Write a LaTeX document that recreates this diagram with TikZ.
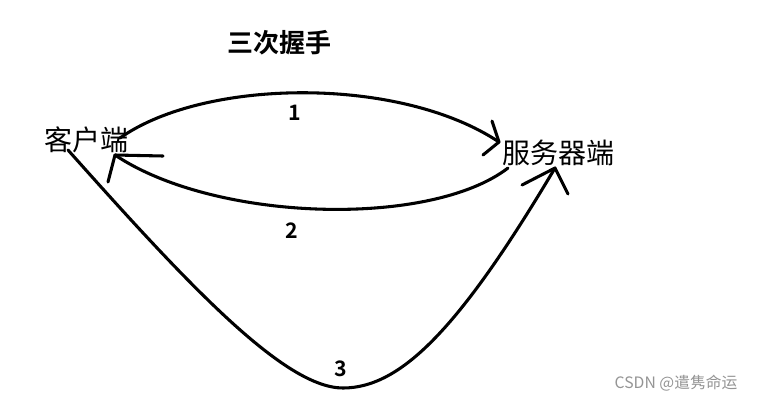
\documentclass[tikz,border=0pt]{standalone}
\usepackage{fontspec}
\setmainfont{Noto Sans CJK SC}
\newfontfamily\cjkbold{Noto Sans CJK SC Bold}
\begin{document}
\begin{tikzpicture}[x=0.75pt,y=-0.75pt,
  stroke/.style={line width=2.3pt,line cap=round,line join=round},
  lbl/.style={inner sep=0pt,font=\fontsize{21pt}{22pt}\selectfont},
  num/.style={inner sep=0pt,font=\fontsize{16pt}{17pt}\selectfont\cjkbold},
  ttl/.style={inner sep=0pt,font=\fontsize{19.5pt}{20pt}\selectfont\cjkbold},
  wm/.style={inner sep=0pt,text=black!42,font=\fontsize{11.8pt}{12pt}\selectfont}]
\useasboundingbox (0,0) rectangle (758,401);
\node[ttl] (title) at (279,43) {三次握手};
\node[lbl] (client) at (87,140) {客户端};
\node[lbl] (server) at (558,153) {服务器端};
\node[num] (n1) at (295,113) {1};
\node[num] (n2) at (292,231) {2};
\node[num] (n3) at (341,369) {3};
\node[wm] (mark) at (676,383) {CSDN @遣隽命运};
% endpoints
\coordinate (s1) at (120,138);
\coordinate (t1) at (499,142);
\coordinate (s2) at (508,168);
\coordinate (t2) at (115,155);
\coordinate (s3) at (68,150);
\coordinate (b3) at (343,388);
\coordinate (t3) at (555,168);
% curve 1
\draw[stroke] (s1) .. controls (205,78) and (400,76) .. (t1);
\draw[stroke] (492,121) -- (t1) -- (483,155);
% curve 2
\draw[stroke] (s2) .. controls (430,228) and (215,222) .. (t2);
\draw[stroke] (163,156) -- (t2) -- (108,182);
% curve 3
\draw[stroke] (s3) .. controls (190,287) and (285,388) .. (b3)
  .. controls (401,388) and (460,328) .. (t3);
\draw[stroke] (522,185) -- (t3) -- (568,194);
\end{tikzpicture}
\end{document}
